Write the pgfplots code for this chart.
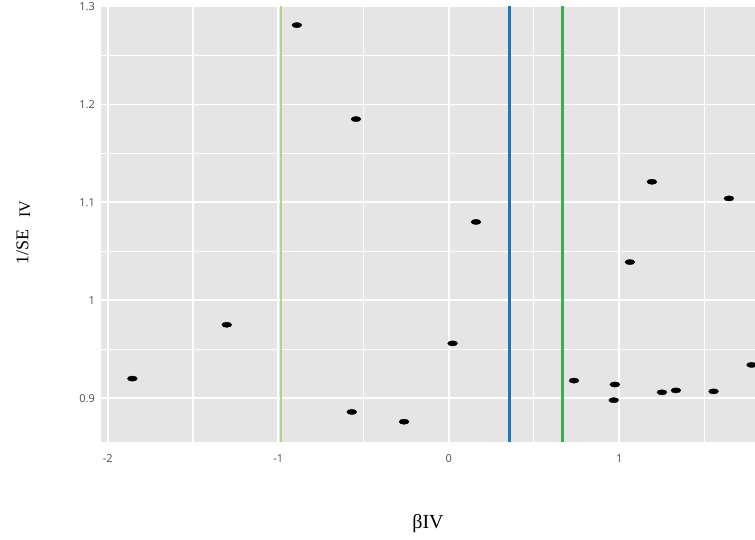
\documentclass[border=0pt]{standalone}
\usepackage{pgfplots}
\pgfplotsset{compat=1.18}
\usepackage{fontspec}
\setmainfont{Liberation Serif}
\newfontfamily\tickfont{Open Sans}
\definecolor{panelbg}{HTML}{E5E5E5}
\definecolor{ticktxt}{HTML}{4D4D4D}
\definecolor{lgreen}{HTML}{A6D98C}
\definecolor{dblue}{HTML}{1F78B4}
\definecolor{dgreen}{HTML}{3CAF4A}
\begin{document}
\begin{tikzpicture}
\useasboundingbox (0,0) rectangle (755pt,540pt);
\begin{axis}[
  at={(101pt,98.3pt)}, anchor=south west,
  scale only axis, width=654pt, height=435.7pt,
  xmin=-2.04, xmax=1.797, ymin=0.8556, ymax=1.3005,
  axis background/.style={fill=panelbg},
  axis line style={draw=none},
  major tick length=0pt, minor tick length=0pt,
  xtick={-2,-1,0,1}, minor xtick={-1.5,-0.5,0.5,1.5},
  ytick={0.9,1,1.1,1.2,1.3}, minor ytick={0.95,1.05,1.15,1.25},
  grid=both,
  major grid style={white, line width=1.8pt},
  minor grid style={white, line width=1.1pt},
  /pgf/number format/assume math mode=true,
  ticklabel style={font=\tickfont\fontsize{11}{11}\selectfont, text=ticktxt, inner sep=0pt},
  xticklabel style={anchor=center, yshift=-17pt},
  yticklabel style={anchor=east, xshift=-6pt},
  yticklabel={\pgfmathprintnumber[fixed]{\tick}},
  clip=false,
]
\addplot[lgreen, line width=2.5pt] coordinates {(-0.985,0.8556) (-0.985,1.3005)};
\addplot[dblue, line width=2.5pt] coordinates {(0.356,0.8556) (0.356,1.3005)};
\addplot[dgreen, line width=2.5pt] coordinates {(0.669,0.8556) (0.669,1.3005)};
\addplot[only marks, mark=*, mark size=2.6pt, black,
  mark options={xscale=1.9, fill=black, draw=black}] coordinates {
(-1.856,0.920)
(-1.302,0.975)
(-0.891,1.281)
(-0.569,0.886)
(-0.544,1.185)
(-0.262,0.876)
(0.023,0.956)
(0.160,1.080)
(0.735,0.918)
(0.968,0.898)
(0.975,0.914)
(1.063,1.039)
(1.192,1.121)
(1.251,0.906)
(1.333,0.908)
(1.554,0.907)
(1.644,1.104)
(1.777,0.934)
};
\end{axis}
\node[anchor=base, inner sep=0pt, font=\fontsize{20}{20}\selectfont] at (428pt,11.7pt) {βIV};
\node[rotate=90, anchor=base west, inner sep=0pt] at (28.3pt,275pt)
  {{\fontsize{18}{18}\selectfont 1/SE}\hspace{12pt}\raisebox{-1.7pt}{\fontsize{16}{16}\selectfont IV}};
\end{tikzpicture}
\end{document}
